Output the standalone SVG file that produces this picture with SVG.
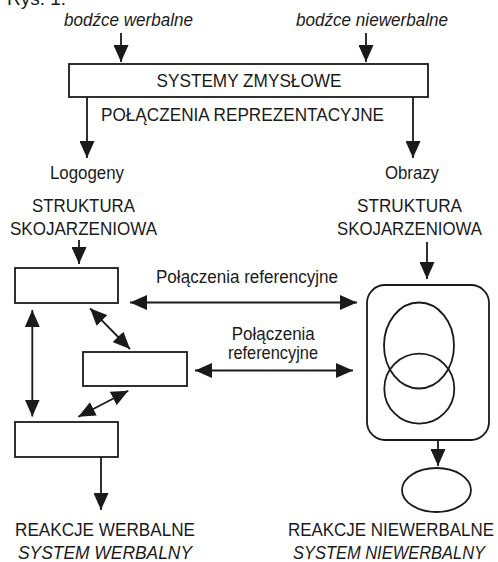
<svg xmlns="http://www.w3.org/2000/svg" width="498" height="562" viewBox="0 0 498 562">
<defs>
<style>
text{font-family:"Liberation Sans",Arial,sans-serif;fill:#1a1a1a;font-size:18.5px}
.it{font-style:italic}
.lc{font-size:17.5px}
.c{text-anchor:middle}
.box{fill:#fff;stroke:#1a1a1a;stroke-width:1.8}
.ln{fill:none;stroke:#1a1a1a;stroke-width:1.8}
</style>
<marker id="ah" viewBox="0 0 17 15" refX="17" refY="7.5" markerWidth="17" markerHeight="15" markerUnits="userSpaceOnUse" orient="auto-start-reverse">
<path d="M0,0 L17,7.5 L0,15 Z" fill="#1a1a1a"/>
</marker>
</defs>
<rect width="498" height="562" fill="#fff"/>
<text x="7" y="5" style="font-size:19px">Rys. 1.</text>
<g id="stim-verbal"><text class="it lc" x="64" y="26" textLength="129" lengthAdjust="spacingAndGlyphs">bodźce werbalne</text></g>
<g id="stim-nonverbal"><text class="it lc" x="296" y="26" textLength="152" lengthAdjust="spacingAndGlyphs">bodźce niewerbalne</text></g>
<g id="sensory"><rect class="box" x="69" y="64" width="359" height="33"/><text class="c" x="249" y="87" textLength="185" lengthAdjust="spacingAndGlyphs">SYSTEMY ZMYSŁOWE</text></g>
<g id="repr"><text class="c" x="242.5" y="121" textLength="283" lengthAdjust="spacingAndGlyphs">POŁĄCZENIA REPREZENTACYJNE</text></g>
<g id="logogens"><text class="c lc" x="87" y="179" textLength="74" lengthAdjust="spacingAndGlyphs">Logogeny</text><text class="c" x="83.5" y="212" textLength="103" lengthAdjust="spacingAndGlyphs">STRUKTURA</text><text class="c" x="83.5" y="235" textLength="147" lengthAdjust="spacingAndGlyphs">SKOJARZENIOWA</text></g>
<g id="images"><text class="c lc" x="412" y="179" textLength="54" lengthAdjust="spacingAndGlyphs">Obrazy</text><text class="c" x="409.5" y="212" textLength="105" lengthAdjust="spacingAndGlyphs">STRUKTURA</text><text class="c" x="409.5" y="235" textLength="145" lengthAdjust="spacingAndGlyphs">SKOJARZENIOWA</text></g>
<g id="box1"><rect class="box" x="15" y="268" width="103" height="35"/></g>
<g id="box2"><rect class="box" x="83" y="352" width="104" height="34"/></g>
<g id="box3"><rect class="box" x="15" y="422" width="103" height="35"/></g>
<g id="imagens"><rect class="box" x="367" y="285" width="122" height="155" rx="18"/>
<ellipse class="ln" cx="419" cy="345.5" rx="35" ry="43"/>
<circle class="ln" cx="419.3" cy="388.7" r="35"/></g>
<g id="nv-ellipse"><ellipse class="box" cx="436.5" cy="490" rx="34.5" ry="22"/></g>
<g id="ref1-label"><text class="c lc" x="247" y="283" textLength="182" lengthAdjust="spacingAndGlyphs">Połączenia referencyjne</text></g>
<g id="ref2-label"><text class="c lc" x="273.3" y="340" textLength="83" lengthAdjust="spacingAndGlyphs">Połączenia</text><text class="c lc" x="273" y="359" textLength="90" lengthAdjust="spacingAndGlyphs">referencyjne</text></g>
<g id="out-verbal"><text class="c" x="105" y="536" textLength="180" lengthAdjust="spacingAndGlyphs">REAKCJE WERBALNE</text><text class="c it" x="105" y="559" textLength="174" lengthAdjust="spacingAndGlyphs">SYSTEM WERBALNY</text></g>
<g id="out-nonverbal"><text class="c" x="391" y="536" textLength="206" lengthAdjust="spacingAndGlyphs">REAKCJE NIEWERBALNE</text><text class="c it" x="389" y="559" textLength="192" lengthAdjust="spacingAndGlyphs">SYSTEM NIEWERBALNY</text></g>
<g id="connectors" class="ln">
<line class="ln" x1="121" y1="33" x2="121" y2="62" marker-end="url(#ah)"/>
<line class="ln" x1="366" y1="33" x2="366" y2="62" marker-end="url(#ah)"/>
<line class="ln" x1="87" y1="97" x2="87" y2="158" marker-end="url(#ah)"/>
<line class="ln" x1="413" y1="97" x2="413" y2="158" marker-end="url(#ah)"/>
<line class="ln" x1="79" y1="240" x2="79" y2="264" marker-end="url(#ah)"/>
<line class="ln" x1="427" y1="242" x2="427" y2="279" marker-end="url(#ah)"/>
<line class="ln" x1="130" y1="302.5" x2="357" y2="302.5" marker-start="url(#ah)" marker-end="url(#ah)"/>
<line class="ln" x1="195" y1="370.5" x2="353" y2="370.5" marker-start="url(#ah)" marker-end="url(#ah)"/>
<line class="ln" x1="32.3" y1="310" x2="32.3" y2="416.5" marker-start="url(#ah)" marker-end="url(#ah)"/>
<line class="ln" x1="90" y1="308.3" x2="130" y2="349" marker-start="url(#ah)" marker-end="url(#ah)"/>
<line class="ln" x1="128.3" y1="390.7" x2="78.3" y2="416.7" marker-start="url(#ah)" marker-end="url(#ah)"/>
<line class="ln" x1="101" y1="457" x2="101" y2="510" marker-end="url(#ah)"/>
<line class="ln" x1="438" y1="440" x2="438" y2="466" marker-end="url(#ah)"/>
</g>
</svg>
